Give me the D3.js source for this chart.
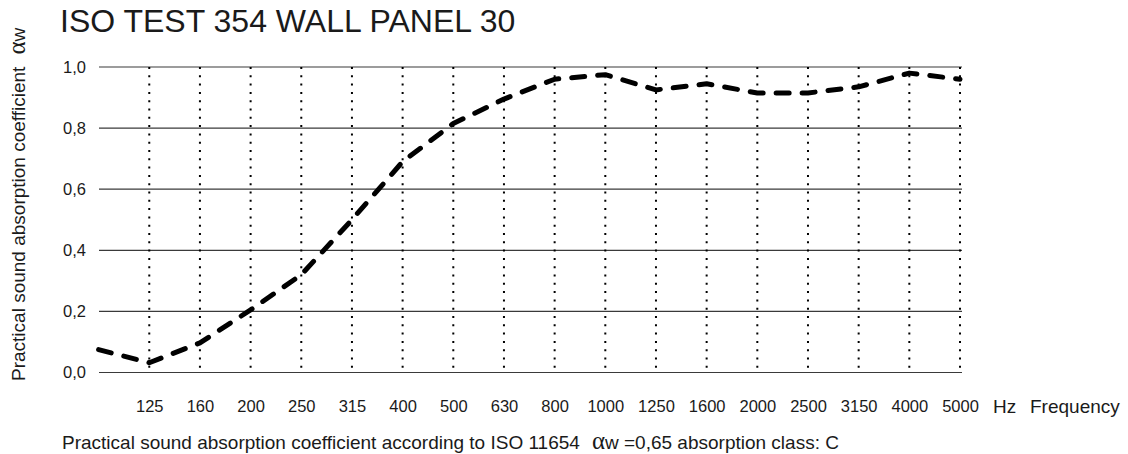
<!DOCTYPE html>
<html>
<head>
<meta charset="utf-8">
<script src="https://cdn.jsdelivr.net/npm/d3@7"></script>
<style>
  body { margin: 0; background: #fff; }
  svg text { font-family: "Liberation Sans", Arial, sans-serif; fill: #1a1a1a; }
  .alpha { font-family: "Liberation Serif", "DejaVu Serif", serif; }
</style>
</head>
<body>
<div id="chart"></div>
<script>
// frequency bands (first band 100 Hz has no label)
const bands = ["100", "125", "160", "200", "250", "315", "400", "500", "630", "800",
               "1000", "1250", "1600", "2000", "2500", "3150", "4000", "5000"];
const labelled = bands.slice(1);
// practical sound absorption coefficient per band
const alphaP = [0.075, 0.032, 0.097, 0.205, 0.32, 0.50, 0.69, 0.815, 0.895, 0.96,
                0.975, 0.925, 0.945, 0.915, 0.915, 0.935, 0.98, 0.96];
const yTicks = [0, 0.2, 0.4, 0.6, 0.8, 1.0];

const W = 1128, H = 454;
const svg = d3.select("#chart").append("svg")
    .attr("width", W).attr("height", H);

const x = d3.scalePoint().domain(bands).range([98.6, 960]);
const y = d3.scaleLinear().domain([0, 1]).range([372.5, 67]);

// horizontal grid lines
svg.append("g")
    .selectAll("line")
    .data(yTicks)
    .enter().append("line")
    .attr("x1", 99).attr("x2", 962)
    .attr("y1", d => y(d)).attr("y2", d => y(d))
    .attr("stroke", "#3a3a3a")
    .attr("stroke-width", 1.2);

// vertical dotted lines
svg.append("g")
    .selectAll("line")
    .data(labelled)
    .enter().append("line")
    .attr("x1", d => x(d)).attr("x2", d => x(d))
    .attr("y1", y(1)).attr("y2", y(0))
    .attr("stroke", "#000")
    .attr("stroke-width", 2)
    .attr("stroke-dasharray", "2,6.3");

// y axis labels
const yAxis = svg.append("g")
    .attr("transform", "translate(90,0)")
    .call(d3.axisLeft(y).tickValues(yTicks).tickSize(0).tickPadding(4)
        .tickFormat(d => d3.format(".1f")(d).replace(".", ",")));
yAxis.select(".domain").remove();
yAxis.selectAll("text")
    .style("font-family", "\"Liberation Sans\", Arial, sans-serif")
    .style("font-size", "16.5px")
    .attr("fill", "#222");

// x axis labels
const xAxis = svg.append("g")
    .attr("transform", "translate(0,396)")
    .call(d3.axisBottom(x).tickValues(labelled).tickSize(0).tickPadding(4));
xAxis.select(".domain").remove();
xAxis.selectAll("text")
    .style("font-family", "\"Liberation Sans\", Arial, sans-serif")
    .style("font-size", "16.5px")
    .attr("fill", "#222");

// curve
const line = d3.line()
    .x((d, i) => x(bands[i]))
    .y(d => y(d))
    .curve(d3.curveLinear);

svg.append("path")
    .datum(alphaP)
    .attr("d", line)
    .attr("fill", "none")
    .attr("stroke", "#000")
    .attr("stroke-width", 5)
    .attr("stroke-linecap", "round")
    .attr("stroke-linejoin", "round")
    .attr("stroke-dasharray", "13,13");

// title
svg.append("text")
    .attr("x", 60).attr("y", 32)
    .style("font-size", "32px")
    .text("ISO TEST 354 WALL PANEL 30");

// y axis title
const yt = svg.append("text")
    .attr("transform", "translate(25,381) rotate(-90)")
    .style("font-size", "19px");
yt.append("tspan").text("Practical sound absorption coefficient");
yt.append("tspan").attr("class", "alpha").attr("dx", 12).style("font-size", "25px").text("α");
yt.append("tspan").text("w");

// x axis unit and title
svg.append("text")
    .attr("x", 993).attr("y", 413)
    .style("font-size", "19px")
    .attr("fill", "#000")
    .text("Hz");
svg.append("text")
    .attr("x", 1030).attr("y", 413)
    .style("font-size", "19px")
    .text("Frequency");

// footer note
const ft = svg.append("text")
    .attr("x", 62).attr("y", 449)
    .style("font-size", "19px");
ft.append("tspan").text("Practical sound absorption coefficient according to ISO 11654");
ft.append("tspan").attr("class", "alpha").attr("dx", 12).style("font-size", "25px").text("α");
ft.append("tspan").text("w =0,65 absorption class: C");
</script>
</body>
</html>
